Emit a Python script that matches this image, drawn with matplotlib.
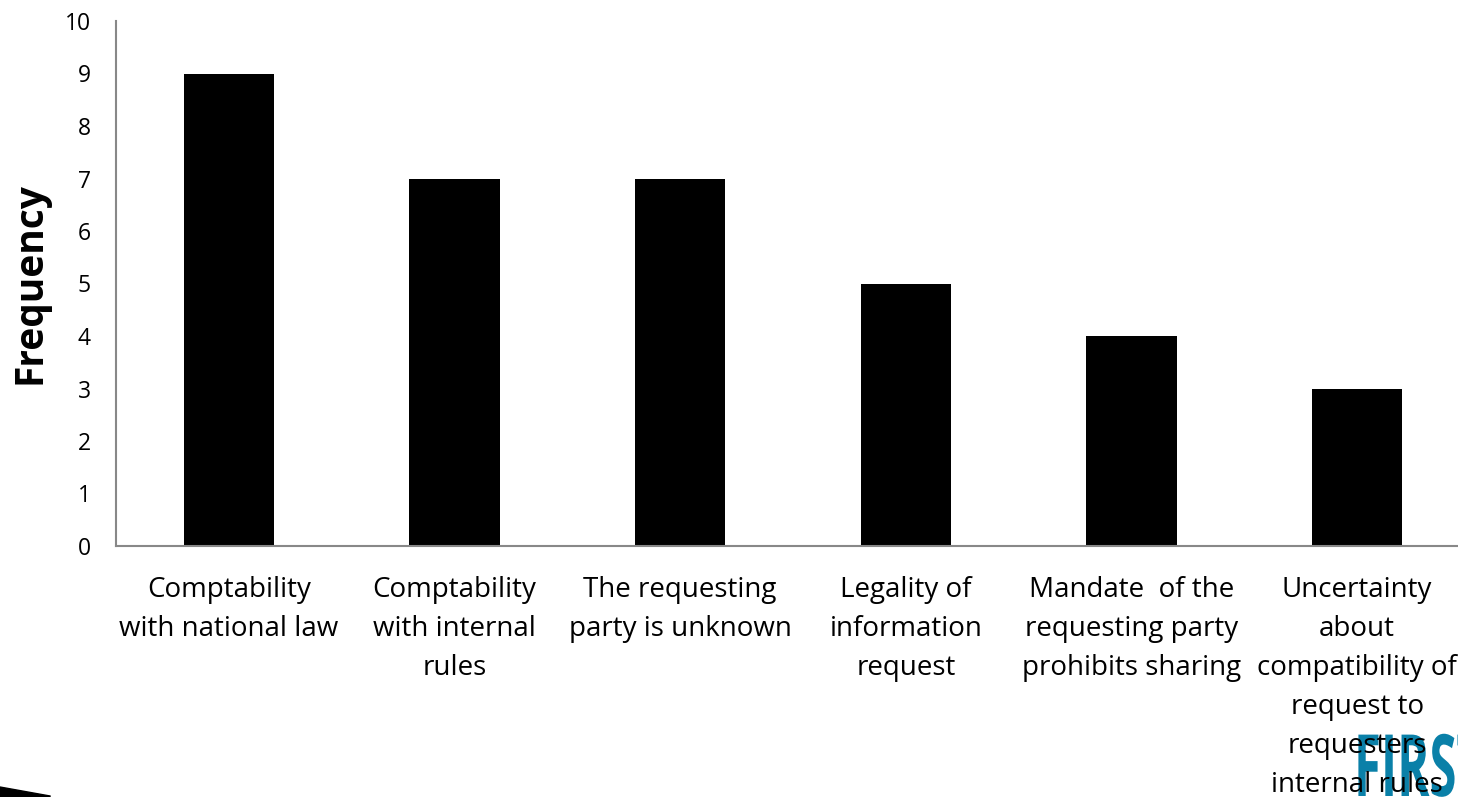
import matplotlib
matplotlib.use("Agg")
import matplotlib.pyplot as plt
from matplotlib.patches import Polygon, PathPatch
from matplotlib.textpath import TextPath
from matplotlib.font_manager import FontProperties
from matplotlib.transforms import Affine2D, IdentityTransform

categories = [
    "Comptability\nwith national law",
    "Comptability\nwith internal\nrules",
    "The requesting\nparty is unknown",
    "Legality of\ninformation\nrequest",
    "Mandate  of the\nrequesting party\nprohibits sharing",
    "Uncertainty\nabout\ncompatibility of\nrequest to\nrequesters\ninternal rules",
]
values = [9, 7, 7, 5, 4, 3]
yticks = list(range(0, 11))

plt.rcParams['font.family'] = ['Open Sans', 'DejaVu Sans']

W, H = 1458, 797
fig = plt.figure(figsize=(W/100, H/100), dpi=100)
ax = fig.add_axes([116/W, 1-546/H, 1354/W, 525/H])
x = list(range(len(values)))
ax.bar(x, values, width=0.4, color='black')
ax.set_xlim(-0.5, 5.5)
ax.set_ylim(0, 10)
ax.set_yticks(yticks)
ax.set_yticklabels([str(t) for t in yticks], fontsize=16.5)
ax.tick_params(axis='y', length=0, pad=18)
ax.tick_params(axis='x', length=0)
ax.set_xticks([])
for s in ['top', 'right']:
    ax.spines[s].set_visible(False)
for s in ['left', 'bottom']:
    ax.spines[s].set_color('#888888')
    ax.spines[s].set_linewidth(1.5)
ax.set_ylabel("Frequency", fontsize=28, fontweight='bold', labelpad=11)

for i, lab in enumerate(categories):
    ax.text(i, -0.58, lab, ha='center', va='top', fontsize=20,
            linespacing=1.52, transform=ax.transData, clip_on=False, zorder=5)

# logo fragment (condensed heavy "FIRST"), behind the labels
fp = FontProperties(family='Open Sans', weight='bold')
tp = TextPath((0, 0), "FIRST", size=86, prop=fp)
tr = Affine2D().scale(0.57, 1.0).translate(1354, 1) + IdentityTransform()
fig.patches.append(PathPatch(tp, transform=tr, color='#0a80a8', lw=0, zorder=-1))

# decorative wedge bottom-left
fig.patches.append(Polygon([[0, 1-787/H], [50/W, 1-796/H], [50/W, 0], [0, 0]],
                           closed=True, transform=fig.transFigure, color='black'))

fig.savefig("out.png", dpi=100)
